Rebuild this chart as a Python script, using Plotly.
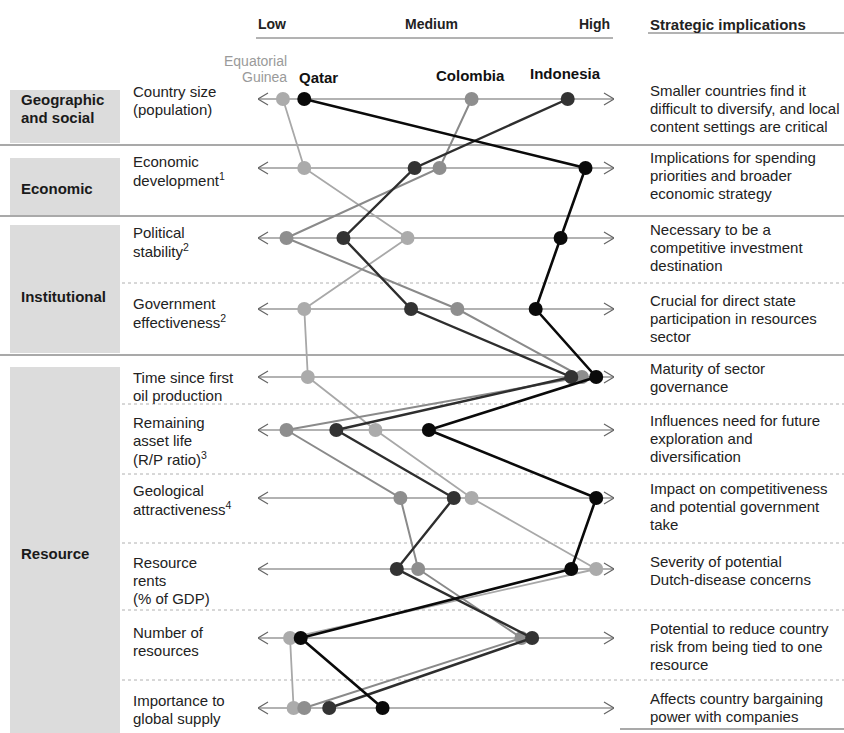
import plotly.graph_objects as go

# ---------------- data ----------------
criteria = [
    ["Country size", "(population)"],
    ["Economic", "development<sup>1</sup>"],
    ["Political", "stability<sup>2</sup>"],
    ["Government", "effectiveness<sup>2</sup>"],
    ["Time since first", "oil production"],
    ["Remaining", "asset life", "(R/P ratio)<sup>3</sup>"],
    ["Geological", "attractiveness<sup>4</sup>"],
    ["Resource", "rents", "(% of GDP)"],
    ["Number of", "resources"],
    ["Importance to", "global supply"],
]
implications = [
    ["Smaller countries find it", "difficult to diversify, and local", "content settings are critical"],
    ["Implications for spending", "priorities and broader", "economic strategy"],
    ["Necessary to be a", "competitive investment", "destination"],
    ["Crucial for direct state", "participation in resources", "sector"],
    ["Maturity of sector", "governance"],
    ["Influences need for future", "exploration and", "diversification"],
    ["Impact on competitiveness", "and potential government", "take"],
    ["Severity of potential", "Dutch-disease concerns"],
    ["Potential to reduce country", "risk from being tied to one", "resource"],
    ["Affects country bargaining", "power with companies"],
]
groups = [["Geographic", "and social"], ["Economic"], ["Institutional"], ["Resource"]]
scale_labels = ["Low", "Medium", "High"]

# scores on a 0 (Low) .. 100 (High) scale, one per criterion
equatorial_guinea = [7, 13, 42, 13, 14, 33, 60, 95, 9, 10]
qatar = [13, 92, 85, 78, 95, 48, 95, 88, 12, 35]
colombia = [60, 51, 8, 56, 91, 8, 40, 45, 74, 13]
indonesia = [87, 44, 24, 43, 88, 22, 55, 39, 77, 20]

# ---------------- layout constants ----------------
W, H = 844, 733
AX0, AX1 = 258, 614                      # pixel extent of the Low..High axis
row_y = [99, 168, 238, 309, 377, 430, 498, 569, 638, 708]
label_first = [91, 161, 232, 303, 377, 422, 490, 562, 632, 700]
impl_first = [90, 157, 229, 300, 368, 420, 488, 561, 628, 698]
separators = [(145, "solid"), (216, "solid"), (283, "dot"), (355, "solid"), (404, "dot"),
              (474, "dot"), (543, "dot"), (610, "dot"), (680, "dot")]
group_boxes = [(90, 143), (158, 215), (225, 353), (367, 733)]
group_label_y = [108, 188, 296, 553]
LINE_H = 18
FONT = "Liberation Sans, Arial, Helvetica, sans-serif"

series = [
    ("Equatorial Guinea", equatorial_guinea, "#ababab", "#a8a8a8", 1.8),
    ("Colombia", colombia, "#8e8e8e", "#8a8a8a", 2.0),
    ("Indonesia", indonesia, "#333333", "#2e2e2e", 2.4),
    ("Qatar", qatar, "#0a0a0a", "#0a0a0a", 2.6),
]

fig = go.Figure()
for name, vals, mcol, lcol, lw in series:
    fig.add_trace(go.Scatter(
        x=vals, y=row_y, mode="lines+markers", name=name,
        line=dict(color=lcol, width=lw),
        marker=dict(size=14, color=mcol, line=dict(width=0)),
        hoverinfo="skip", showlegend=False,
    ))

shapes = []
annotations = []


def px(x):
    return x / W


# grey group boxes
for y0, y1 in group_boxes:
    shapes.append(dict(type="rect", xref="paper", yref="y", x0=px(10), x1=px(120),
                       y0=y0, y1=y1, fillcolor="#dcdcdc", line=dict(width=0), layer="below"))

# separators
for y, kind in separators:
    if kind == "solid":
        shapes.append(dict(type="line", xref="paper", yref="y", x0=0, x1=1, y0=y, y1=y,
                           line=dict(color="#555555", width=1.2), layer="below"))
    else:
        shapes.append(dict(type="line", xref="paper", yref="y", x0=px(122), x1=1, y0=y, y1=y,
                           line=dict(color="#b0b0b0", width=1, dash="dot"), layer="below"))
# bottom rule under implications
shapes.append(dict(type="line", xref="paper", yref="y", x0=px(620), x1=1, y0=729, y1=729,
                   line=dict(color="#555555", width=1.2), layer="below"))

# per-row axis lines with open arrowheads
dx = 10 / (AX1 - AX0) * 100
for y in row_y:
    shapes.append(dict(type="line", xref="x", yref="y", x0=0, x1=100, y0=y, y1=y,
                       line=dict(color="#666666", width=1.2), layer="below"))
    shapes.append(dict(type="path", xref="x", yref="y",
                       path=f"M {dx},{y-6} L 0,{y} L {dx},{y+6}",
                       line=dict(color="#666666", width=1.2), layer="below"))
    shapes.append(dict(type="path", xref="x", yref="y",
                       path=f"M {100-dx},{y-6} L 100,{y} L {100-dx},{y+6}",
                       line=dict(color="#666666", width=1.2), layer="below"))

# header rules
shapes.append(dict(type="line", xref="paper", yref="y", x0=px(256), x1=px(613), y0=38, y1=38,
                   line=dict(color="#666666", width=1), layer="below"))
shapes.append(dict(type="line", xref="paper", yref="y", x0=px(648), x1=1, y0=33, y1=33,
                   line=dict(color="#666666", width=1), layer="below"))


def txt(text, x, y, anchor="left", size=15, color="#222222", bold=False):
    annotations.append(dict(
        text=f"<b>{text}</b>" if bold else text, x=px(x), y=y, xref="paper", yref="y",
        xanchor=anchor, yanchor="middle", showarrow=False,
        font=dict(family=FONT, size=size, color=color)))


def block(lines, x, y_first, **kw):
    for i, line in enumerate(lines):
        txt(line, x, y_first + i * LINE_H, **kw)


# header
txt(scale_labels[0], 256, 24, "left", 14, "#222222", True)
txt(scale_labels[1], 432, 24, "center", 14, "#222222", True)
txt(scale_labels[2], 612, 24, "right", 14, "#222222", True)
txt("Strategic implications", 648, 24, "left", 15, "#222222", True)

# country labels
txt("Equatorial", 289, 61, "right", 14, "#9a9a9a")
txt("Guinea", 289, 77, "right", 14, "#9a9a9a")
txt("Qatar", 297, 77, "left", 15, "#111111", True)
txt("Colombia", 470, 75, "center", 15, "#111111", True)
txt("Indonesia", 565, 73, "center", 15, "#111111", True)

# group labels
for g, y in zip(groups, group_label_y):
    block(g, 19, y - (len(g) - 1) * LINE_H / 2, anchor="left", size=15, color="#1a1a1a", bold=True)

# criteria labels and implications
for lines, y in zip(criteria, label_first):
    block(lines, 131, y, anchor="left", size=15, color="#222222")
for lines, y in zip(implications, impl_first):
    block(lines, 648, y, anchor="left", size=15, color="#222222")

fig.update_layout(
    width=W, height=H, margin=dict(l=0, r=0, t=0, b=0),
    paper_bgcolor="white", plot_bgcolor="rgba(0,0,0,0)",
    xaxis=dict(domain=[AX0 / W, AX1 / W], range=[0, 100], visible=False, fixedrange=True),
    yaxis=dict(domain=[0, 1], range=[H, 0], visible=False, fixedrange=True),
    shapes=shapes, annotations=annotations, showlegend=False,
)

fig.write_html("out.html", config={"displayModeBar": False},
               post_script="document.body.style.margin='0';document.body.style.overflow='hidden';")
